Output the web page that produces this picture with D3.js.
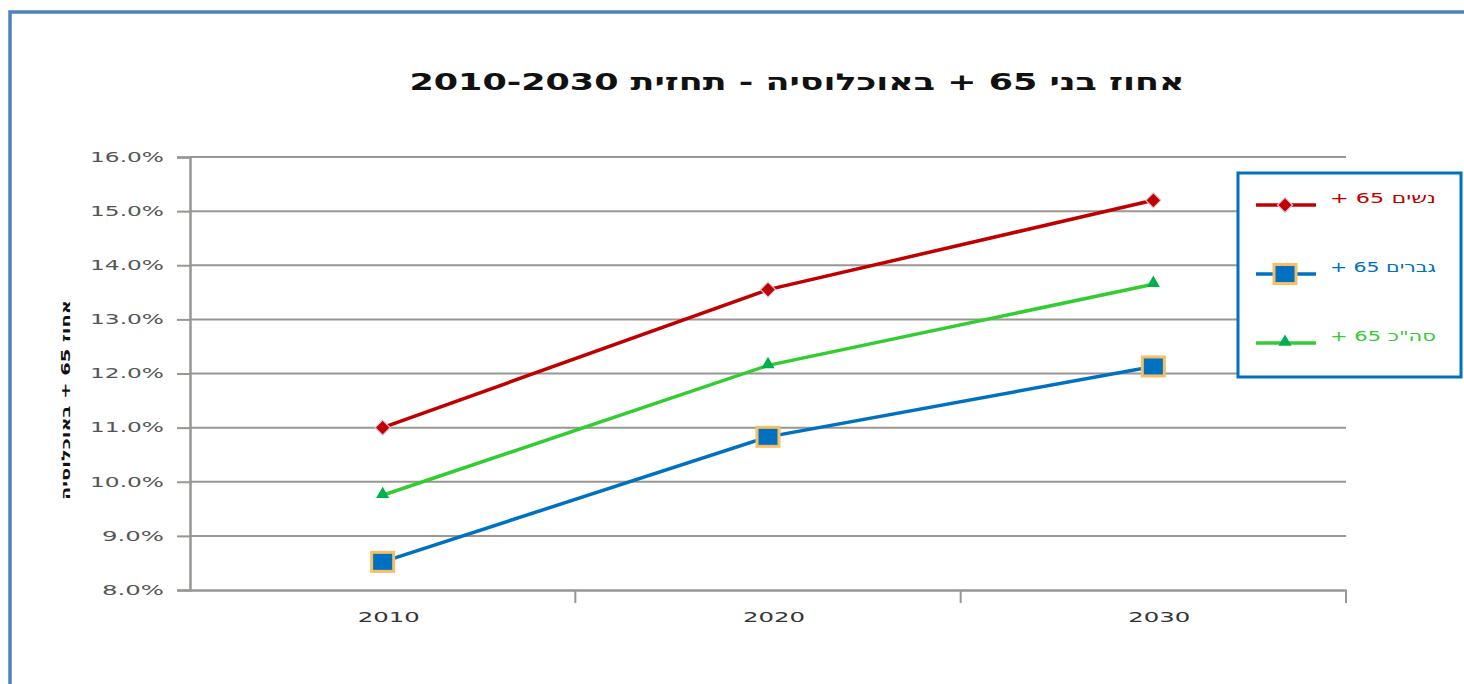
<!DOCTYPE html>
<html>
<head>
<meta charset="utf-8">
<script src="https://cdn.jsdelivr.net/npm/d3@7"></script>
<style>
  html, body { margin: 0; padding: 0; background: #fff; overflow: hidden; }
  svg { display: block; font-family: "DejaVu Sans", Verdana, sans-serif; }
</style>
</head>
<body>
<svg id="chart" width="1464" height="684"></svg>
<script>
// Share of population aged 65+, forecast 2010-2030
const years = ["2010", "2020", "2030"];
const women65 = [11.0, 13.55, 15.2];
const men65 = [8.52, 10.83, 12.13];
const total65 = [9.75, 12.15, 13.65];
const seriesNames = ["נשים 65 +", "גברים 65 +", "סה\"כ 65 +"];
const yTicks = [8, 9, 10, 11, 12, 13, 14, 15, 16];

const svg = d3.select("#chart");
const FONT = "\"DejaVu Sans\", Verdana, sans-serif";

// outer chart frame
svg.append("rect")
  .attr("x", 10).attr("y", 12)
  .attr("width", 1500).attr("height", 720)
  .attr("fill", "none").attr("stroke", "#4f81bd").attr("stroke-width", 3.5);

const plot = { left: 190, right: 1346, top: 157, bottom: 590 };

const x = d3.scaleBand().domain(years).range([plot.left, plot.right]);
const y = d3.scaleLinear().domain([8, 16]).range([plot.bottom, plot.top]);

// horizontal gridlines
svg.append("g")
  .selectAll("line")
  .data(yTicks.slice(1))
  .join("line")
  .attr("x1", plot.left).attr("x2", plot.right)
  .attr("y1", d => y(d)).attr("y2", d => y(d))
  .attr("stroke", "#999693").attr("stroke-width", 2);

// y axis
const yAxis = svg.append("g")
  .attr("transform", `translate(${plot.left},0)`)
  .call(d3.axisLeft(y).tickValues(yTicks).tickSize(13).tickPadding(13)
    .tickFormat(d => d.toFixed(1) + "%"));
yAxis.select(".domain").attr("stroke", "#999693").attr("stroke-width", 2.5);
yAxis.selectAll(".tick line").attr("stroke", "#999693").attr("stroke-width", 2);
yAxis.selectAll(".tick text")
  .attr("fill", "#555").attr("font-size", 13.5)
  .attr("font-family", FONT)
  .attr("textLength", function () { return this.textContent.length === 5 ? 74 : 62; })
  .attr("lengthAdjust", "spacingAndGlyphs");

// x axis
const xAxis = svg.append("g")
  .attr("transform", `translate(0,${plot.bottom})`)
  .call(d3.axisBottom(x).tickSize(0).tickPadding(22));
xAxis.select(".domain").attr("stroke", "#999693").attr("stroke-width", 2.5);
xAxis.selectAll(".tick text")
  .attr("fill", "#333").attr("font-size", 14.5)
  .attr("dx", 6)
  .attr("font-family", FONT)
  .attr("textLength", 62).attr("lengthAdjust", "spacingAndGlyphs");
// category separator ticks
svg.append("g")
  .selectAll("line")
  .data(years.slice(1).map(d => x(d)).concat([plot.right]))
  .join("line")
  .attr("x1", d => d).attr("x2", d => d)
  .attr("y1", plot.bottom).attr("y2", plot.bottom + 13)
  .attr("stroke", "#999693").attr("stroke-width", 2);

const cx = d => x(d) + x.bandwidth() / 2;

const series = [
  { name: seriesNames[0], values: women65, color: "#c00000", marker: "diamond" },
  { name: seriesNames[1], values: men65, color: "#0070c0", marker: "square" },
  { name: seriesNames[2], values: total65, color: "#33cc33", marker: "triangle" }
];

const line = d3.line().x((d, i) => cx(years[i])).y(d => y(d));

function drawMarker(g, type, px, py, color) {
  if (type === "diamond") {
    g.append("path")
      .attr("d", "M0,-7.5L7.5,0L0,7.5L-7.5,0Z")
      .attr("transform", `translate(${px},${py})`)
      .attr("fill", color).attr("stroke", "#d6c6dc").attr("stroke-width", 1.2);
  } else if (type === "square") {
    g.append("rect")
      .attr("x", px - 11).attr("y", py - 9.5)
      .attr("width", 22).attr("height", 19)
      .attr("fill", "#0070c0").attr("stroke", "#f7be64").attr("stroke-width", 3);
  } else {
    g.append("path")
      .attr("d", d3.symbol(d3.symbolTriangle, 75)())
      .attr("transform", `translate(${px},${py - 1})`)
      .attr("fill", "#00b050");
  }
}

const marks = svg.append("g");
series.forEach(s => {
  marks.append("path")
    .datum(s.values)
    .attr("d", line)
    .attr("fill", "none").attr("stroke", s.color).attr("stroke-width", 3.5);
});
series.forEach(s => {
  s.values.forEach((v, i) => drawMarker(marks, s.marker, cx(years[i]), y(v), s.color));
});

// title
svg.append("text")
  .attr("x", 797).attr("y", 90)
  .attr("text-anchor", "middle")
  .attr("direction", "rtl")
  .attr("font-size", 23).attr("font-weight", "bold").attr("fill", "#111")
  .attr("textLength", 775).attr("lengthAdjust", "spacingAndGlyphs")
  .text("אחוז בני 65 +  באוכלוסיה - תחזית 2010-2030");

// y axis title
svg.append("text")
  .attr("transform", "translate(70,400) rotate(-90)")
  .attr("text-anchor", "middle")
  .attr("direction", "rtl")
  .attr("font-size", 12).attr("font-weight", "bold").attr("fill", "#111")
  .attr("textLength", 200).attr("lengthAdjust", "spacingAndGlyphs")
  .text("אחוז 65 + באוכלוסיה");

// legend
const legend = svg.append("g");
legend.append("rect")
  .attr("x", 1238).attr("y", 173)
  .attr("width", 223).attr("height", 204)
  .attr("fill", "#fff").attr("stroke", "#0070c0").attr("stroke-width", 3);
const legendY = [205, 274, 343];
series.forEach((s, i) => {
  const ly = legendY[i];
  legend.append("line")
    .attr("x1", 1256).attr("x2", 1316)
    .attr("y1", ly).attr("y2", ly)
    .attr("stroke", s.color).attr("stroke-width", 3.5);
  drawMarker(legend, s.marker, 1285, ly, s.color);
  legend.append("text")
    .attr("x", 1436).attr("y", ly - 2)
    .attr("direction", "rtl")
    .attr("text-anchor", "start")
    .attr("font-size", 14).attr("fill", s.color)
    .attr("textLength", 106).attr("lengthAdjust", "spacingAndGlyphs")
    .text(s.name);
});
</script>
</body>
</html>
